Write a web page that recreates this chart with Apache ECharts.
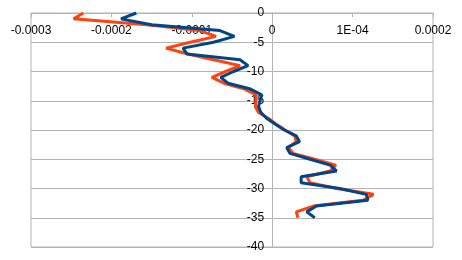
<!DOCTYPE html>
<html><head><meta charset="utf-8">
<script src="https://cdn.jsdelivr.net/npm/echarts@6/dist/echarts.min.js"></script>
<style>html,body{margin:0;padding:0;background:#fff}#c{width:462px;height:260px}</style>
</head><body><div id="c"></div>
<script>
const depths = [0,-1,-2,-3,-4,-5,-6,-7,-8,-9,-10,-11,-12,-13,-14,-15,-16,-17,-18,-19,-20,-21,-22,-23,-24,-25,-26,-27,-28,-29,-30,-31,-32,-33,-34,-35];
const seriesOrange = [-2.35e-4,-2.47e-4,-1.56e-4,-0.90e-4,-0.70e-4,-1.02e-4,-1.32e-4,-1.05e-4,-0.73e-4,-0.40e-4,-0.58e-4,-0.75e-4,-0.60e-4,-0.34e-4,-0.20e-4,-0.20e-4,-0.21e-4,-0.17e-4,-0.05e-4,0.05e-4,0.16e-4,0.28e-4,0.30e-4,0.20e-4,0.26e-4,0.53e-4,0.79e-4,0.72e-4,0.43e-4,0.47e-4,0.80e-4,1.26e-4,1.13e-4,0.51e-4,0.30e-4,0.32e-4];
const seriesBlue = [-1.69e-4,-1.88e-4,-1.50e-4,-0.65e-4,-0.47e-4,-0.73e-4,-1.11e-4,-1.06e-4,-0.40e-4,-0.30e-4,-0.48e-4,-0.64e-4,-0.55e-4,-0.27e-4,-0.13e-4,-0.15e-4,-0.17e-4,-0.14e-4,-0.07e-4,0.04e-4,0.15e-4,0.30e-4,0.34e-4,0.18e-4,0.22e-4,0.47e-4,0.72e-4,0.80e-4,0.36e-4,0.36e-4,0.84e-4,1.17e-4,1.19e-4,0.55e-4,0.43e-4,0.53e-4];
const xTickLabels = ['-0.0003','-0.0002','-0.0001','0','1E-04','0.0002'];
const xMin = -0.0003, xMax = 0.0002, xStep = 0.0001;

const gridLeft = 31, gridWidth = 402;
// y axis sits at x = 0 of the horizontal scale
const yAxisOffset = -gridWidth * (0 - xMin) / (xMax - xMin);

const chart = echarts.init(document.getElementById('c'), null, {renderer:'canvas'});
const font = 'Liberation Sans';
chart.setOption({
  animation: false,
  grid: {left:gridLeft, width:gridWidth, top:13, bottom:13, show:true, borderColor:'#b3b3b3', borderWidth:1},
  xAxis: {
    type:'value', position:'top', min:xMin, max:xMax, interval:xStep,
    axisLine:{show:true, onZero:false, lineStyle:{color:'#b3b3b3'}},
    axisTick:{show:true, inside:true, length:4, lineStyle:{color:'#b3b3b3'}},
    splitLine:{show:false},
    axisLabel:{inside:true, margin:12, color:'#000', fontFamily:font, fontSize:12,
      formatter:(v)=>xTickLabels[Math.round((v - xMin)/xStep)]}
  },
  yAxis: {
    type:'value', min:-40, max:0, interval:5, position:'left', offset:yAxisOffset,
    axisLine:{show:true, onZero:false, lineStyle:{color:'#b3b3b3'}},
    axisTick:{show:false},
    splitLine:{show:true, lineStyle:{color:'#b3b3b3'}},
    axisLabel:{margin:8, color:'#000', fontFamily:font, fontSize:12}
  },
  series: [
    {type:'line', data: depths.map((d,i)=>[seriesOrange[i], d]), symbol:'none',
      lineStyle:{color:'#ff420e', width:3}, itemStyle:{color:'#ff420e'}},
    {type:'line', data: depths.map((d,i)=>[seriesBlue[i], d]), symbol:'none',
      lineStyle:{color:'#004586', width:3}, itemStyle:{color:'#004586'}}
  ]
});
</script></body></html>
